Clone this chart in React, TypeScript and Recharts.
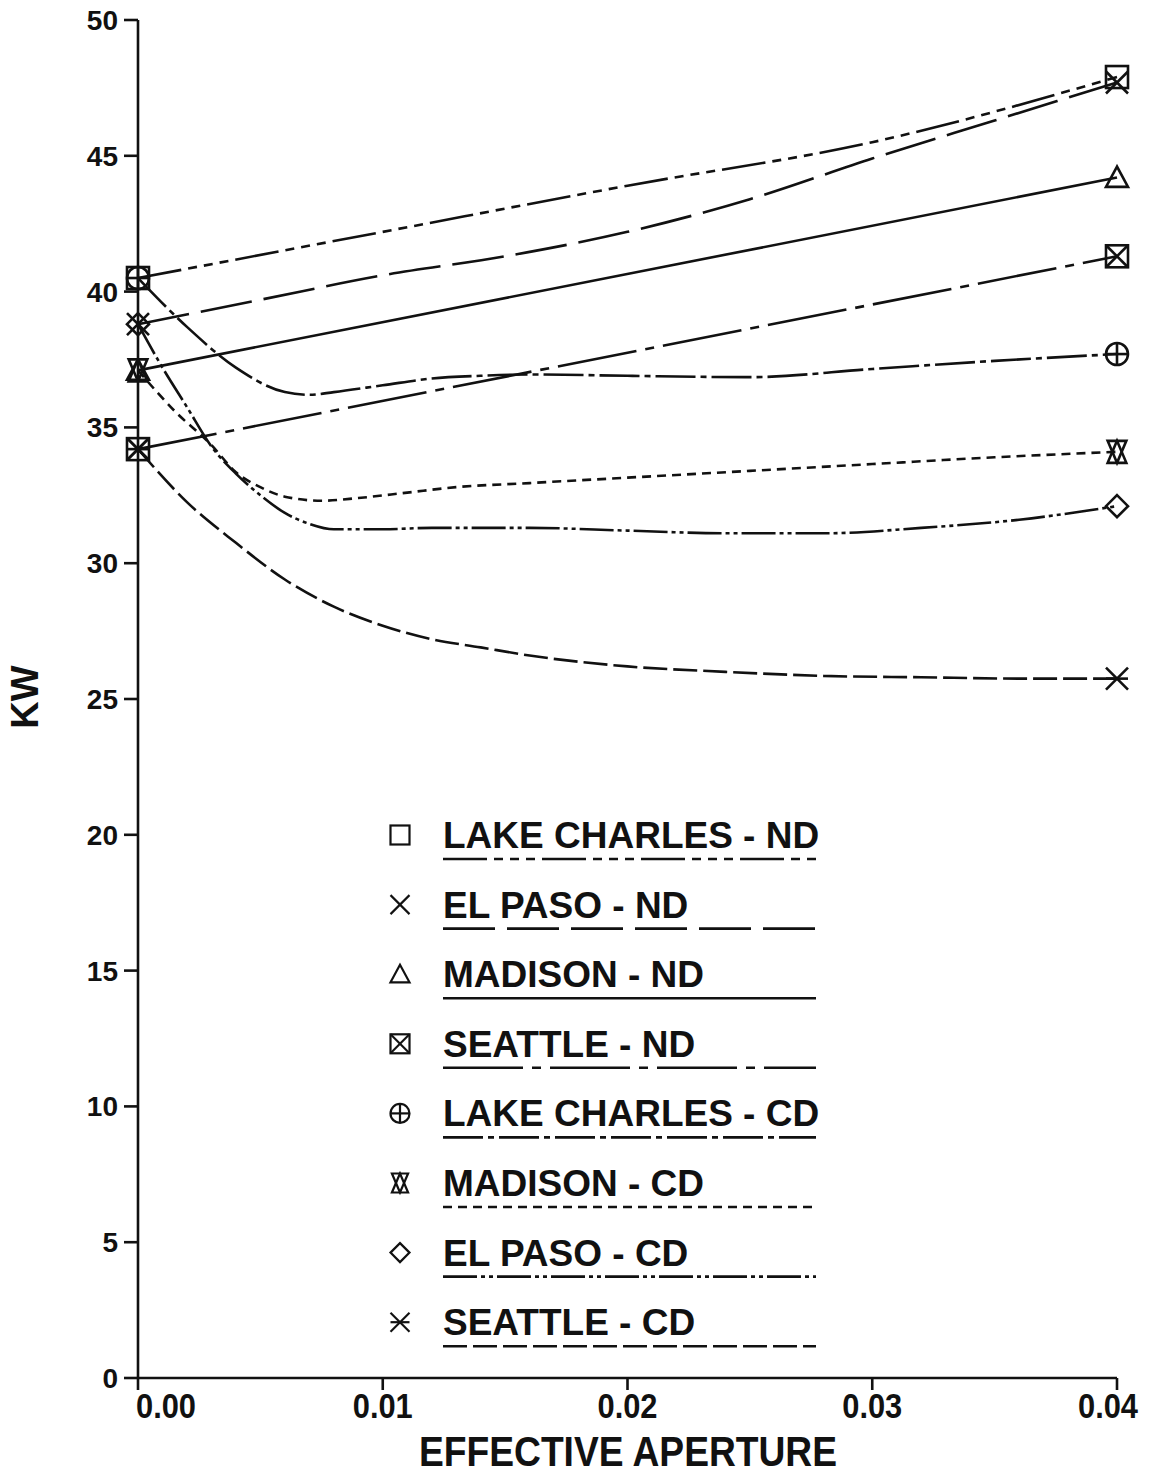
import React from 'react';
import { LineChart, Line, XAxis, YAxis } from 'recharts';

// ---------- axis ticks ----------
const xTicks = [0, 0.01, 0.02, 0.03, 0.04];
const xTickLabels = ['0.00', '0.01', '0.02', '0.03', '0.04'];
const yTicks = [0, 5, 10, 15, 20, 25, 30, 35, 40, 45, 50];

// ---------- series data (effective aperture -> kW) ----------
const lakeCharlesNDAperture = [0, 0.01, 0.02, 0.03, 0.04];
const lakeCharlesNDKw = [40.5, 42.2, 43.9, 45.5, 47.9];

const elPasoNDAperture = [0, 0.005, 0.01, 0.015, 0.02, 0.025, 0.03, 0.035, 0.04];
const elPasoNDKw = [38.8, 39.7, 40.6, 41.3, 42.2, 43.4, 44.9, 46.3, 47.7];

const madisonNDAperture = [0, 0.04];
const madisonNDKw = [37.1, 44.2];

const seattleNDAperture = [0, 0.04];
const seattleNDKw = [34.2, 41.3];

const lakeCharlesCDAperture = [0, 0.002, 0.004, 0.006, 0.007, 0.008, 0.01, 0.012, 0.014, 0.016, 0.02, 0.025, 0.03, 0.035, 0.04];
const lakeCharlesCDKw = [40.5, 38.7, 37.2, 36.3, 36.2, 36.3, 36.55, 36.8, 36.9, 36.95, 36.9, 36.85, 37.15, 37.45, 37.7];

const madisonCDAperture = [0, 0.0015, 0.003, 0.004, 0.005, 0.006, 0.0075, 0.009, 0.011, 0.013, 0.016, 0.02, 0.025, 0.03, 0.035, 0.04];
const madisonCDKw = [37.1, 35.6, 34.35, 33.35, 32.8, 32.45, 32.3, 32.4, 32.6, 32.8, 32.95, 33.15, 33.4, 33.65, 33.9, 34.1];

const elPasoCDAperture = [0, 0.001, 0.002, 0.003, 0.004, 0.005, 0.006, 0.007, 0.008, 0.01, 0.012, 0.016, 0.02, 0.024, 0.028, 0.032, 0.036, 0.04];
const elPasoCDKw = [38.8, 37.2, 35.75, 34.3, 33.3, 32.5, 31.85, 31.45, 31.25, 31.25, 31.3, 31.3, 31.2, 31.1, 31.1, 31.3, 31.6, 32.1];

const seattleCDAperture = [0, 0.002, 0.004, 0.006, 0.008, 0.01, 0.012, 0.014, 0.016, 0.02, 0.024, 0.028, 0.032, 0.036, 0.04];
const seattleCDKw = [34.2, 32.25, 30.75, 29.4, 28.4, 27.7, 27.2, 26.9, 26.6, 26.2, 26.0, 25.85, 25.8, 25.75, 25.75];

const seriesNames = [
  'LAKE CHARLES - ND',
  'EL PASO - ND',
  'MADISON - ND',
  'SEATTLE - ND',
  'LAKE CHARLES - CD',
  'MADISON - CD',
  'EL PASO - CD',
  'SEATTLE - CD',
];

type MarkerKind = 'square' | 'x' | 'triangle' | 'boxx' | 'circleplus' | 'hourglass' | 'diamond' | 'starx';

const INK = '#111';
const FONT = "'Liberation Sans', Arial, Helvetica, sans-serif";

const zip = (xs: number[], ys: number[]) => xs.map((x, i) => ({ x, y: ys[i] }));

const series: { name: string; data: { x: number; y: number }[]; marker: MarkerKind; dash: string }[] = [
  { name: seriesNames[0], data: zip(lakeCharlesNDAperture, lakeCharlesNDKw), marker: 'square', dash: '44 7 9 7 9 7 9 7' },
  { name: seriesNames[1], data: zip(elPasoNDAperture, elPasoNDKw), marker: 'x', dash: '52 12' },
  { name: seriesNames[2], data: zip(madisonNDAperture, madisonNDKw), marker: 'triangle', dash: '' },
  { name: seriesNames[3], data: zip(seattleNDAperture, seattleNDKw), marker: 'boxx', dash: '80 9 9 9' },
  { name: seriesNames[4], data: zip(lakeCharlesCDAperture, lakeCharlesCDKw), marker: 'circleplus', dash: '40 5 6 5' },
  { name: seriesNames[5], data: zip(madisonCDAperture, madisonCDKw), marker: 'hourglass', dash: '9 6' },
  { name: seriesNames[6], data: zip(elPasoCDAperture, elPasoCDKw), marker: 'diamond', dash: '34 4 4 4 4 4' },
  { name: seriesNames[7], data: zip(seattleCDAperture, seattleCDKw), marker: 'starx', dash: '24 6' },
];

function Marker({ kind, cx, cy, r, sw }: { kind: MarkerKind; cx: number; cy: number; r: number; sw: number }) {
  const common = { stroke: INK, strokeWidth: sw, fill: 'none', strokeLinejoin: 'miter' as const };
  switch (kind) {
    case 'square':
      return <rect x={cx - r} y={cy - r} width={2 * r} height={2 * r} {...common} />;
    case 'x':
      return (
        <g {...common}>
          <line x1={cx - r} y1={cy - r} x2={cx + r} y2={cy + r} />
          <line x1={cx - r} y1={cy + r} x2={cx + r} y2={cy - r} />
        </g>
      );
    case 'triangle':
      return <polygon points={`${cx},${cy - r} ${cx - r},${cy + r * 0.85} ${cx + r},${cy + r * 0.85}`} {...common} />;
    case 'boxx':
      return (
        <g {...common}>
          <rect x={cx - r} y={cy - r} width={2 * r} height={2 * r} />
          <line x1={cx - r} y1={cy - r} x2={cx + r} y2={cy + r} />
          <line x1={cx - r} y1={cy + r} x2={cx + r} y2={cy - r} />
        </g>
      );
    case 'circleplus':
      return (
        <g {...common}>
          <circle cx={cx} cy={cy} r={r} />
          <line x1={cx - r} y1={cy} x2={cx + r} y2={cy} />
          <line x1={cx} y1={cy - r} x2={cx} y2={cy + r} />
        </g>
      );
    case 'hourglass':
      return (
        <g {...common}>
          <polygon points={`${cx},${cy - r} ${cx - r * 0.85},${cy + r} ${cx + r * 0.85},${cy + r}`} />
          <polygon points={`${cx},${cy + r} ${cx - r * 0.85},${cy - r} ${cx + r * 0.85},${cy - r}`} />
        </g>
      );
    case 'diamond':
      return <polygon points={`${cx},${cy - r} ${cx + r},${cy} ${cx},${cy + r} ${cx - r},${cy}`} {...common} />;
    case 'starx':
      return (
        <g {...common}>
          <line x1={cx - r} y1={cy - r} x2={cx + r} y2={cy + r} />
          <line x1={cx - r} y1={cy + r} x2={cx + r} y2={cy - r} />
          <line x1={cx - r} y1={cy} x2={cx + r} y2={cy} />
        </g>
      );
  }
  return null;
}

const makeDot = (kind: MarkerKind) => (props: any) => {
  const { cx, cy, payload, index } = props;
  if (!payload || (payload.x !== 0 && payload.x !== 0.04) || cx == null || cy == null) {
    return <g key={`d-${index}`} />;
  }
  return (
    <g key={`d-${index}`}>
      <Marker kind={kind} cx={cx} cy={cy} r={11} sw={2.6} />
    </g>
  );
};

const XTick = (props: any) => {
  const { x, y, payload } = props;
  const i = xTicks.indexOf(payload.value);
  const label = i >= 0 ? xTickLabels[i] : String(payload.value);
  const shift = payload.value === 0 ? 28 : payload.value === 0.04 ? -9 : 0;
  return (
    <text
      x={x + shift}
      y={y + 26}
      textAnchor="middle"
      fontFamily={FONT}
      fontWeight="bold"
      fontSize={35}
      textLength={60}
      lengthAdjust="spacingAndGlyphs"
      fill={INK}
    >
      {label}
    </text>
  );
};

const YTick = (props: any) => {
  const { x, y, payload } = props;
  return (
    <text x={x} y={y + 10} textAnchor="end" fontFamily={FONT} fontWeight="bold" fontSize={28} fill={INK}>
      {payload.value}
    </text>
  );
};

function LegendBox() {
  const rowY0 = 835;
  const rowGap = 69.6;
  return (
    <svg width={1150} height={1474} style={{ position: 'absolute', left: 0, top: 0, pointerEvents: 'none' }}>
      {series.map((s, i) => {
        const cy = rowY0 + i * rowGap;
        return (
          <g key={s.name}>
            <Marker kind={s.marker} cx={400} cy={cy} r={9.5} sw={2.2} />
            <text x={443} y={cy + 13} fontFamily={FONT} fontWeight="bold" fontSize={37} fill={INK}>
              {s.name}
            </text>
            <line
              x1={443}
              y1={cy + 24}
              x2={816}
              y2={cy + 24}
              stroke={INK}
              strokeWidth={2.6}
              strokeDasharray={s.dash || undefined}
            />
          </g>
        );
      })}
      <text
        x={38}
        y={697}
        transform="rotate(-90 38 697)"
        textAnchor="middle"
        fontFamily={FONT}
        fontWeight="bold"
        fontSize={38}
        fill={INK}
      >
        KW
      </text>
      <text
        x={628}
        y={1466}
        textAnchor="middle"
        fontFamily={FONT}
        fontWeight="bold"
        fontSize={42}
        textLength={418}
        lengthAdjust="spacingAndGlyphs"
        fill={INK}
      >
        EFFECTIVE APERTURE
      </text>
    </svg>
  );
}

export default function App() {
  return (
    <div style={{ position: 'absolute', left: 0, top: 0, width: 1150, height: 1474, background: '#fff' }}>
      <LineChart width={1150} height={1474} margin={{ top: 20, right: 33, bottom: 36, left: 78 }}>
        <XAxis
          dataKey="x"
          type="number"
          domain={[0, 0.04]}
          ticks={xTicks}
          interval={0}
          height={60}
          tickSize={12}
          tickMargin={2}
          axisLine={{ stroke: INK, strokeWidth: 2.6 }}
          tickLine={{ stroke: INK, strokeWidth: 2.6 }}
          tick={<XTick />}
          allowDuplicatedCategory={false}
        />
        <YAxis
          dataKey="y"
          type="number"
          domain={[0, 50]}
          ticks={yTicks}
          interval={0}
          width={60}
          tickSize={14}
          tickMargin={6}
          axisLine={{ stroke: INK, strokeWidth: 2.6 }}
          tickLine={{ stroke: INK, strokeWidth: 2.6 }}
          tick={<YTick />}
        />
        {series.map((s) => (
          <Line
            key={s.name}
            name={s.name}
            data={s.data}
            dataKey="y"
            type="monotone"
            stroke={INK}
            strokeWidth={2.6}
            strokeDasharray={s.dash || undefined}
            dot={makeDot(s.marker)}
            activeDot={false}
            isAnimationActive={false}
          />
        ))}
      </LineChart>
      <LegendBox />
    </div>
  );
}
